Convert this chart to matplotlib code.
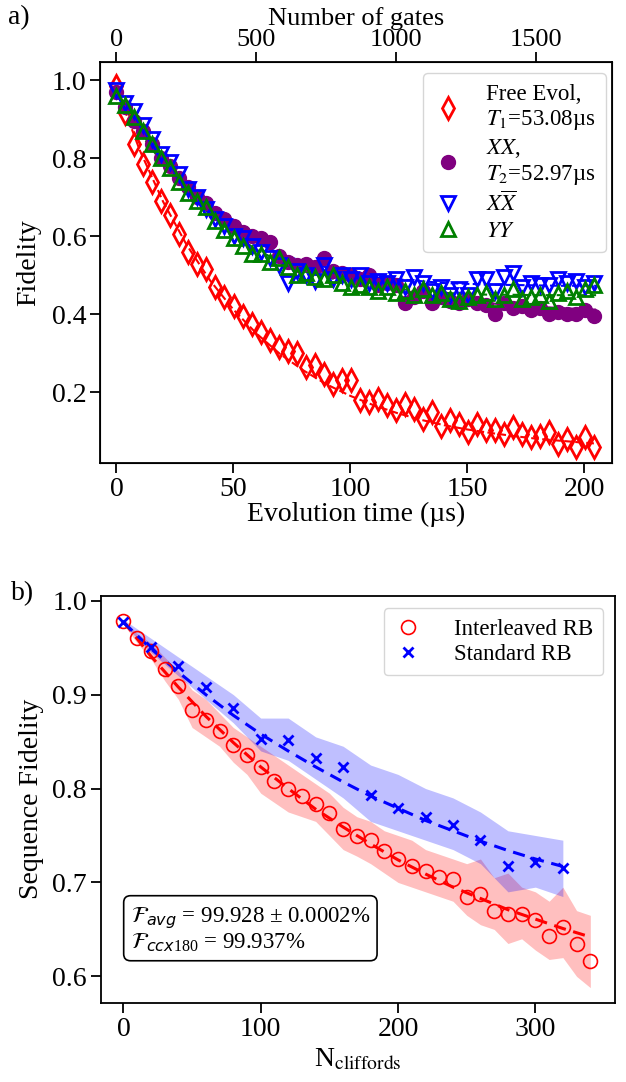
import matplotlib
matplotlib.use("Agg")
import matplotlib.pyplot as plt

plt.rcParams['font.family'] = ['Liberation Serif', 'DejaVu Serif']
plt.rcParams['mathtext.fontset'] = 'stix'

# ---------------- panel a) data ----------------
t_us = [0.0, 3.85, 7.7, 11.55, 15.4, 19.25, 23.1, 26.95, 30.8, 34.65, 38.5, 42.35,
        46.2, 50.05, 53.9, 57.75, 61.6, 65.45, 69.3, 73.15, 77.0, 80.85, 84.7, 88.55,
        92.4, 96.25, 100.1, 103.95, 107.8, 111.65, 115.5, 119.35, 123.2, 127.05,
        130.9, 134.75, 138.6, 142.45, 146.3, 150.15, 154.0, 157.85, 161.7, 165.55,
        169.4, 173.25, 177.1, 180.95, 184.8, 188.65, 192.5, 196.35, 200.2, 204.05]

free_evol = [0.985, 0.915, 0.835, 0.785, 0.74, 0.69, 0.655, 0.605, 0.56, 0.53, 0.515, 0.47,
             0.445, 0.42, 0.395, 0.375, 0.355, 0.335, 0.315, 0.305, 0.30, 0.265, 0.27, 0.248,
             0.222, 0.232, 0.232, 0.18, 0.176, 0.184, 0.167, 0.154, 0.171, 0.158,
             0.133, 0.15, 0.115, 0.128, 0.12, 0.098, 0.12, 0.103, 0.103, 0.094,
             0.111, 0.094, 0.085, 0.089, 0.098, 0.068, 0.081, 0.06, 0.085, 0.061]

xx = [0.97, 0.93, 0.895, 0.87, 0.835, 0.80, 0.78, 0.75, 0.725, 0.70, 0.685, 0.66,
      0.645, 0.625, 0.61, 0.60, 0.595, 0.585, 0.55, 0.535, 0.525, 0.53, 0.52, 0.545,
      0.51, 0.505, 0.50, 0.49, 0.50, 0.475, 0.48, 0.475, 0.43, 0.445,
      0.46, 0.43, 0.445, 0.435, 0.43, 0.44, 0.43, 0.425, 0.40, 0.43,
      0.415, 0.42, 0.41, 0.415, 0.40, 0.405, 0.40, 0.40, 0.41, 0.395]

xxbar = [0.975, 0.94, 0.92, 0.885, 0.85, 0.81, 0.79, 0.76, 0.72, 0.70, 0.67, 0.645,
         0.625, 0.60, 0.595, 0.575, 0.56, 0.545, 0.525, 0.48, 0.51, 0.50, 0.485, 0.525,
         0.49, 0.50, 0.49, 0.50, 0.48, 0.485, 0.48, 0.49, 0.47, 0.495,
         0.48, 0.46, 0.47, 0.45, 0.465, 0.45, 0.49, 0.49, 0.46, 0.495,
         0.505, 0.47, 0.48, 0.475, 0.475, 0.49, 0.48, 0.485, 0.47, 0.48]

yy = [0.96, 0.935, 0.905, 0.87, 0.835, 0.80, 0.775, 0.74, 0.71, 0.69, 0.675, 0.64,
      0.615, 0.595, 0.575, 0.555, 0.555, 0.535, 0.545, 0.52, 0.50, 0.505, 0.495, 0.49,
      0.50, 0.48, 0.47, 0.475, 0.47, 0.46, 0.47, 0.455, 0.46, 0.45,
      0.465, 0.45, 0.455, 0.44, 0.435, 0.445, 0.45, 0.455, 0.44, 0.45,
      0.465, 0.44, 0.445, 0.45, 0.435, 0.455, 0.46, 0.445, 0.465, 0.475]

# fitted curves
t_fit = [0, 10, 20, 30, 40, 50, 60, 70, 80, 90, 100, 110, 120, 130, 140, 150, 160,
         170, 180, 190, 200, 205]
free_fit = [0.98, 0.82, 0.688, 0.578, 0.487, 0.412, 0.35, 0.298, 0.256, 0.22, 0.191,
            0.167, 0.147, 0.13, 0.116, 0.105, 0.096, 0.088, 0.081, 0.076, 0.071, 0.069]
xx_fit = [0.97, 0.872, 0.791, 0.724, 0.668, 0.622, 0.584, 0.552, 0.526, 0.504, 0.487,
          0.472, 0.459, 0.449, 0.44, 0.434, 0.428, 0.423, 0.419, 0.416, 0.413, 0.412]
xxbar_fit = [0.97, 0.87, 0.79, 0.72, 0.665, 0.62, 0.585, 0.555, 0.535, 0.52, 0.505,
             0.495, 0.49, 0.485, 0.48, 0.478, 0.476, 0.475, 0.474, 0.473, 0.473, 0.473]
yy_fit = [0.965, 0.865, 0.785, 0.715, 0.655, 0.605, 0.565, 0.535, 0.51, 0.495, 0.48,
          0.47, 0.465, 0.46, 0.455, 0.452, 0.45, 0.45, 0.449, 0.449, 0.449, 0.449]

gate_time_us = 0.1195

# ---------------- panel b) data ----------------
n_irb = [0, 10, 20, 30, 40, 50, 60, 70, 80, 90, 100, 110, 120, 130, 140, 150, 160, 170,
         180, 190, 200, 210, 220, 230, 240, 250, 260, 270, 280, 290, 300, 310, 320, 330, 340]
irb = [0.978, 0.960, 0.946, 0.927, 0.909, 0.884, 0.873, 0.861, 0.846, 0.836, 0.823, 0.808,
       0.799, 0.792, 0.784, 0.774, 0.757, 0.749, 0.745, 0.733, 0.725, 0.718, 0.712, 0.706,
       0.704, 0.685, 0.688, 0.670, 0.666, 0.666, 0.660, 0.643, 0.653, 0.634, 0.616]
irb_low = [0.975, 0.955, 0.938, 0.915, 0.895, 0.865, 0.855, 0.845, 0.828, 0.815, 0.795,
           0.785, 0.775, 0.77, 0.765, 0.75, 0.735, 0.728, 0.72, 0.71, 0.70, 0.695, 0.69,
           0.685, 0.68, 0.665, 0.655, 0.65, 0.635, 0.64, 0.628, 0.618, 0.62, 0.60, 0.588]
irb_high = [0.98, 0.965, 0.955, 0.94, 0.925, 0.905, 0.895, 0.88, 0.865, 0.855, 0.845,
            0.835, 0.825, 0.815, 0.805, 0.795, 0.78, 0.77, 0.765, 0.755, 0.75, 0.745, 0.735,
            0.73, 0.725, 0.72, 0.725, 0.705, 0.71, 0.695, 0.69, 0.68, 0.695, 0.67, 0.665]

n_srb = [0, 20, 40, 60, 80, 100, 120, 140, 160, 180, 200, 220, 240, 260, 280, 300, 320]
srb = [0.977, 0.951, 0.930, 0.908, 0.886, 0.853, 0.852, 0.832, 0.823, 0.793, 0.779,
       0.770, 0.761, 0.745, 0.717, 0.722, 0.715]
srb_low = [0.975, 0.945, 0.92, 0.895, 0.87, 0.84, 0.83, 0.81, 0.79, 0.765, 0.755, 0.745,
           0.735, 0.72, 0.69, 0.695, 0.685]
srb_high = [0.98, 0.96, 0.94, 0.92, 0.90, 0.875, 0.875, 0.855, 0.845, 0.825, 0.815, 0.80,
            0.79, 0.775, 0.755, 0.75, 0.745]

n_fit_irb = [0, 20, 40, 60, 80, 100, 120, 140, 160, 180, 200, 220, 240, 260, 280, 300, 320, 340]
irb_fit = [0.978, 0.941, 0.908, 0.877, 0.849, 0.823, 0.800, 0.778, 0.759, 0.741, 0.724,
           0.709, 0.695, 0.683, 0.671, 0.661, 0.651, 0.642]
n_fit_srb = [0, 20, 40, 60, 80, 100, 120, 140, 160, 180, 200, 220, 240, 260, 280, 300, 320]
srb_fit = [0.977, 0.949, 0.924, 0.900, 0.878, 0.858, 0.840, 0.823, 0.807, 0.792, 0.779,
           0.766, 0.755, 0.744, 0.734, 0.725, 0.717]

tick_fs = 20
label_fs = 20

fig = plt.figure(figsize=(6.26, 10.82), dpi=100)

# ================= panel a) =================
ax1 = fig.add_axes([0.1605, 0.5724, 0.8179, 0.3706])

ax1.plot(t_fit, free_fit, '--', color='red', lw=1.5, zorder=2)
ax1.plot(t_us, free_evol, 'd', ls='none', mfc='none', mec='red', mew=2, ms=11,
         label='Free Evol,\n$T_1$=53.08µs', zorder=3)
ax1.plot(t_fit, xx_fit, '--', color='purple', lw=1.5, zorder=2)
ax1.plot(t_us, xx, 'o', ls='none', color='purple', ms=10,
         label='$XX$,\n$T_2$=52.97µs', zorder=3)
ax1.plot(t_fit, xxbar_fit, '--', color='blue', lw=1.5, zorder=2)
ax1.plot(t_us, xxbar, 'v', ls='none', mfc='none', mec='blue', mew=2, ms=10,
         label=r'$X\overline{X}$', zorder=3)
ax1.plot(t_fit, yy_fit, '--', color='green', lw=1.5, zorder=2)
ax1.plot(t_us, yy, '^', ls='none', mfc='none', mec='green', mew=2, ms=10,
         label='$YY$', zorder=3)

ax1.set_xlim(-6.8, 212)
ax1.set_ylim(0.02, 1.047)
ax1.set_yticks([0.2, 0.4, 0.6, 0.8, 1.0])
ax1.set_xticks([0, 50, 100, 150, 200])
ax1.set_xlabel('Evolution time (µs)', fontsize=label_fs, labelpad=0)
ax1.set_ylabel('Fidelity', fontsize=label_fs, labelpad=8)
ax1.tick_params(labelsize=tick_fs, width=1.3, length=7, pad=3)
for s in ax1.spines.values():
    s.set_linewidth(1.3)

ax1.legend(loc='upper right', bbox_to_anchor=(0.987, 0.971), borderaxespad=0,
           fontsize=16.5, handletextpad=1.0, labelspacing=0.2,
           handlelength=1.3, borderpad=0.45)

ax1t = ax1.twiny()
lo, hi = ax1.get_xlim()
ax1t.set_xlim(lo / gate_time_us, hi / gate_time_us)
ax1t.set_xticks([0, 500, 1000, 1500])
ax1t.set_xlabel('Number of gates', fontsize=19, labelpad=3)
ax1t.tick_params(labelsize=19, width=1.3, length=7, pad=0.5)

fig.text(0.012, 0.995, 'a)', fontsize=20, va='top')

# ================= panel b) =================
ax2 = fig.add_axes([0.1609, 0.0733, 0.8216, 0.3759])

ax2.fill_between(n_irb, irb_low, irb_high, color='red', alpha=0.25, lw=0)
ax2.fill_between(n_srb, srb_low, srb_high, color='blue', alpha=0.25, lw=0)
ax2.plot(n_fit_irb, irb_fit, '--', color='red', lw=2.2, dashes=(4, 2.5))
ax2.plot(n_fit_srb, srb_fit, '--', color='blue', lw=2.2, dashes=(4, 2.5))
ax2.plot(n_irb, irb, 'o', ls='none', mfc='none', mec='red', mew=1.2, ms=10,
         label='Interleaved RB')
ax2.plot(n_srb, srb, 'x', ls='none', color='blue', mew=2, ms=7, label='Standard RB')

ax2.set_xlim(-16.5, 358)
ax2.set_ylim(0.572, 1.005)
ax2.set_xticks([0, 100, 200, 300])
ax2.set_yticks([0.6, 0.7, 0.8, 0.9, 1.0])
ax2.set_xlabel(r'N$_{\mathrm{cliffords}}$', fontsize=label_fs, labelpad=4)
ax2.set_ylabel('Sequence Fidelity', fontsize=label_fs, labelpad=6)
ax2.tick_params(labelsize=tick_fs, width=1.3, length=7, pad=3)
for s in ax2.spines.values():
    s.set_linewidth(1.3)

ax2.legend(loc='upper right', bbox_to_anchor=(0.977, 0.97), borderaxespad=0,
           fontsize=16.5, handletextpad=1.4, labelspacing=0.2, handlelength=1.2,
           borderpad=0.45)

ax2.text(0.058, 0.12,
         r'$\mathcal{F}_{avg}$ = 99.928 ± 0.0002%' + '\n' +
         r'$\mathcal{F}_{ccx\mathregular{180}}$ = 99.937%',
         transform=ax2.transAxes, fontsize=16.5, va='bottom', ha='left',
         math_fontfamily='dejavusans', linespacing=1.0,
         bbox=dict(boxstyle='round,pad=0.3', fc='white', ec='black', lw=1.2))

fig.text(0.018, 0.463, 'b)', fontsize=20, va='top')

fig.savefig('out.png', dpi=100)
